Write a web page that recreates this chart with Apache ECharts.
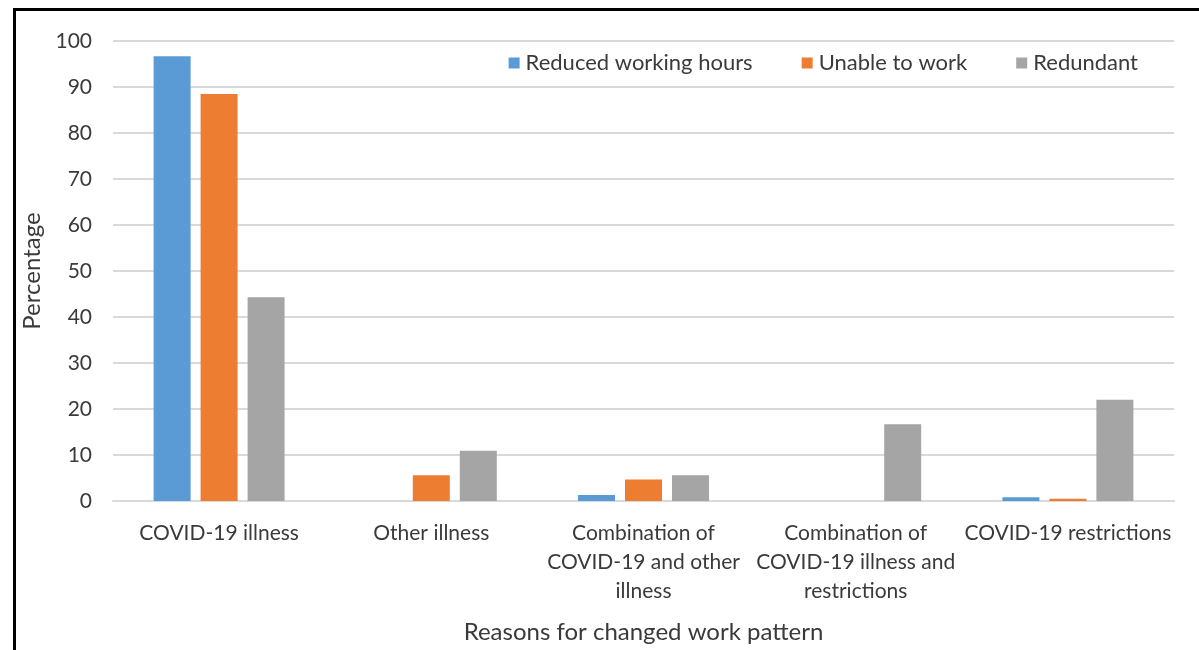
<!DOCTYPE html>
<html><head><meta charset="utf-8">
<script src="https://cdn.jsdelivr.net/npm/echarts@6/dist/echarts.min.js"></script>
<style>
html,body{margin:0;padding:0;background:#fff;overflow:hidden;width:1199px;height:650px}
#wrap{position:relative;width:1199px;height:650px;overflow:hidden}
#c{width:1199px;height:650px;position:absolute;left:0;top:0}
#frame{position:absolute;left:13px;top:8px;width:1300px;height:800px;border:3px solid #000;box-sizing:border-box;pointer-events:none}
</style></head>
<body>
<div id="wrap">
<div id="frame"></div>
<div id="c"></div>
</div>
<script>
const categories = ["COVID-19 illness", "Other illness", "Combination of\nCOVID-19 and other\nillness", "Combination of\nCOVID-19 illness and\nrestrictions", "COVID-19 restrictions"];
const reducedHours = [96.7, 0, 1.3, 0, 0.8];
const unableToWork = [88.5, 5.6, 4.7, 0, 0.5];
const redundant = [44.3, 10.9, 5.6, 16.7, 22.0];
const yTicks = [0, 10, 20, 30, 40, 50, 60, 70, 80, 90, 100];

const font = 'Lato, "Open Sans", sans-serif';
const txt = '#3a3a3a';
const chart = echarts.init(document.getElementById('c'));
const mk = (name, data, color) => ({
  name, type: 'bar', data, barWidth: 37, barGap: '27%',
  itemStyle: { color, borderWidth: 0 }
});
chart.setOption({
  animation: false,
  textStyle: { fontFamily: font },
  grid: { left: 113, right: 25, top: 41, bottom: 149, containLabel: false, outerBoundsMode: 'none' },
  legend: {
    top: 47, right: 56, itemWidth: 11, itemHeight: 11, itemGap: 49,
    textStyle: { fontSize: 22, color: txt, fontFamily: font, padding: [0, 0, 0, 1] },
    icon: 'rect',
    data: ['Reduced working hours', 'Unable to work', 'Redundant']
  },
  xAxis: {
    type: 'category', data: categories,
    name: 'Reasons for changed work pattern', nameLocation: 'middle', nameGap: 119,
    nameTextStyle: { fontSize: 24, color: txt, fontFamily: font },
    axisLine: { lineStyle: { color: '#d9d9d9', width: 2 } },
    axisTick: { show: false },
    axisLabel: { fontSize: 21, color: txt, lineHeight: 29, margin: 18, interval: 0, fontFamily: font }
  },
  yAxis: {
    type: 'value', min: 0, max: 100, interval: 10,
    name: 'Percentage', nameLocation: 'middle', nameGap: 67, nameRotate: 90,
    nameTextStyle: { fontSize: 24, color: txt, fontFamily: font },
    axisLine: { show: false }, axisTick: { show: false },
    axisLabel: { fontSize: 21, color: txt, margin: 21, fontFamily: font,
      formatter: v => yTicks.includes(v) ? String(v) : '' },
    splitLine: { lineStyle: { color: '#d9d9d9', width: 2 } }
  },
  series: [
    mk('Reduced working hours', reducedHours, '#5b9bd5'),
    mk('Unable to work', unableToWork, '#ed7d31'),
    mk('Redundant', redundant, '#a5a5a5')
  ]
});
</script>
</body></html>
